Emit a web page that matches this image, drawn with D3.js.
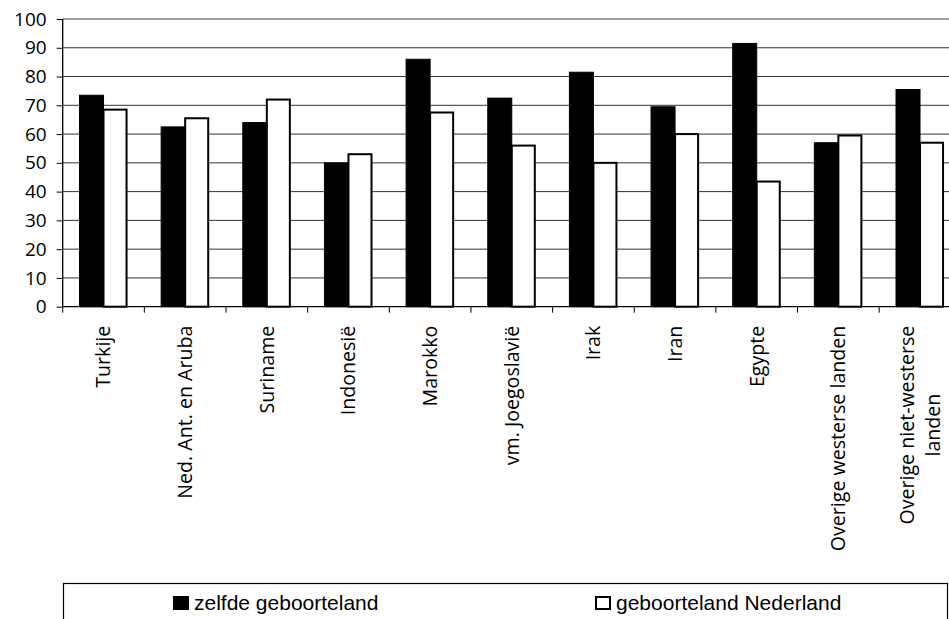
<!DOCTYPE html>
<html>
<head>
<meta charset="utf-8">
<script src="https://cdn.jsdelivr.net/npm/d3@7"></script>
<style>
html,body{margin:0;padding:0;background:#fff;overflow:hidden;}
svg{display:block;}
</style>
</head>
<body>
<svg id="chart" width="949" height="619"></svg>
<script>
const categories = ["Turkije","Ned. Ant. en Aruba","Suriname","Indonesië","Marokko","vm. Joegoslavië","Irak","Iran","Egypte","Overige westerse landen","Overige niet-westerse landen"];
const seriesNames = ["zelfde geboorteland","geboorteland Nederland"];
const zelfde = [73.5,62.5,64,50,86,72.5,81.5,69.5,91.5,57,75.5];
const nederland = [68.5,65.5,72,53,67.5,56,50,60,43.5,59.5,57];
const yTicks = [0,10,20,30,40,50,60,70,80,90,100];

(function(){
const svg = d3.select("#chart");
const left = 62.7, plotTop = 19, bottom = 306.7, bandW = 81.65;
const x0 = d3.scaleBand().domain(categories).range([left, left + categories.length*bandW]).paddingInner(0).paddingOuter(0);
const x1 = d3.scaleBand().domain(seriesNames).range([16.8, bandW-16.8]).padding(0);
const y = d3.scaleLinear().domain([0,100]).range([bottom, plotTop]);
const labelFont = "'Open Sans', 'Noto Sans', sans-serif";

// gridlines
svg.append("g").selectAll("line").data(yTicks.filter(d=>d>0)).join("line")
  .attr("x1", left).attr("x2", 969)
  .attr("y1", d=>y(d)).attr("y2", d=>y(d))
  .attr("stroke", d=> d===100 ? "#a0a0a0" : "#333")
  .attr("stroke-width", d=> d===100 ? 2 : 1);

// y axis
const yAxis = d3.axisLeft(y).tickValues(yTicks).tickSize(6).tickPadding(10);
const gy = svg.append("g").attr("transform", `translate(${left},0)`).call(yAxis);
gy.select(".domain").attr("stroke","#000").attr("stroke-width",1.3).attr("d", `M0,${plotTop}V${bottom}`);
gy.selectAll(".tick line").attr("stroke","#000");
gy.selectAll(".tick text").attr("font-family", labelFont).attr("font-size", 19).attr("fill","#000");

// bars
const g = svg.append("g").selectAll("g").data(categories).join("g")
  .attr("transform", d=>`translate(${x0(d)},0)`);
g.append("rect")
  .attr("x", x1(seriesNames[0])).attr("width", x1.bandwidth())
  .attr("y", (d,i)=>y(zelfde[i])).attr("height", (d,i)=>bottom - y(zelfde[i]))
  .attr("fill","#000").attr("stroke","#000").attr("stroke-width",1);
g.append("rect")
  .attr("x", x1(seriesNames[1])).attr("width", x1.bandwidth()-1)
  .attr("y", (d,i)=>y(nederland[i])).attr("height", (d,i)=>bottom - y(nederland[i]))
  .attr("fill","#fff").attr("stroke","#000").attr("stroke-width",2);

// x axis line and ticks
svg.append("line").attr("x1", left).attr("x2", 969).attr("y1", bottom).attr("y2", bottom).attr("stroke","#000").attr("stroke-width",1.3);
svg.append("g").selectAll("line").data(categories.concat(["__end"])).join("line")
  .attr("x1",(d,i)=>left + i*bandW).attr("x2",(d,i)=>left + i*bandW)
  .attr("y1", bottom).attr("y2", bottom+6).attr("stroke","#000");

// category labels
const labelLines = categories.map(c => c === "Overige niet-westerse landen" ? ["Overige niet-westerse","landen"] : [c]);
const lg = svg.append("g").selectAll("g").data(categories).join("g")
  .attr("transform", d=>`translate(${x0(d)+x0.bandwidth()/2},${bottom+19}) rotate(-90)`);
lg.each(function(d,i){
  const lines = labelLines[i];
  const sel = d3.select(this);
  const lh = 26;
  const off = -(lines.length-1)*lh/2;
  const t1 = sel.append("text").attr("text-anchor","end").attr("x",0).attr("y", off).attr("dy","0.35em")
    .attr("font-family", labelFont).attr("font-size",19.6).attr("fill","#000").text(lines[0]);
  if (lines.length > 1) {
    const w = t1.node().getComputedTextLength();
    sel.append("text").attr("text-anchor","middle").attr("x", -w/2).attr("y", off+lh).attr("dy","0.35em")
      .attr("font-family", labelFont).attr("font-size",19.6).attr("fill","#000").text(lines[1]);
  }
});

// legend
svg.append("rect").attr("x",63.5).attr("y",583.5).attr("width",884).attr("height",60).attr("fill","#fff").attr("stroke","#000").attr("stroke-width",1.2);
const legendX = [173, 595];
const leg = svg.append("g").selectAll("g").data(seriesNames).join("g").attr("transform",(d,i)=>`translate(${legendX[i]},596)`);
leg.append("rect").attr("x",(d,i)=> i===0?0:1).attr("y",(d,i)=> i===0?0:1).attr("width",(d,i)=>i===0?16:14).attr("height",(d,i)=>i===0?14:12)
  .attr("fill",(d,i)=>i===0?"#000":"#fff").attr("stroke","#000").attr("stroke-width",(d,i)=>i===0?0:2);
leg.append("text").attr("x",21).attr("y",14).attr("font-family","'Liberation Sans', Arial, sans-serif").attr("font-size",21).attr("fill","#000").text(d=>d);
})();
</script>
</body>
</html>
